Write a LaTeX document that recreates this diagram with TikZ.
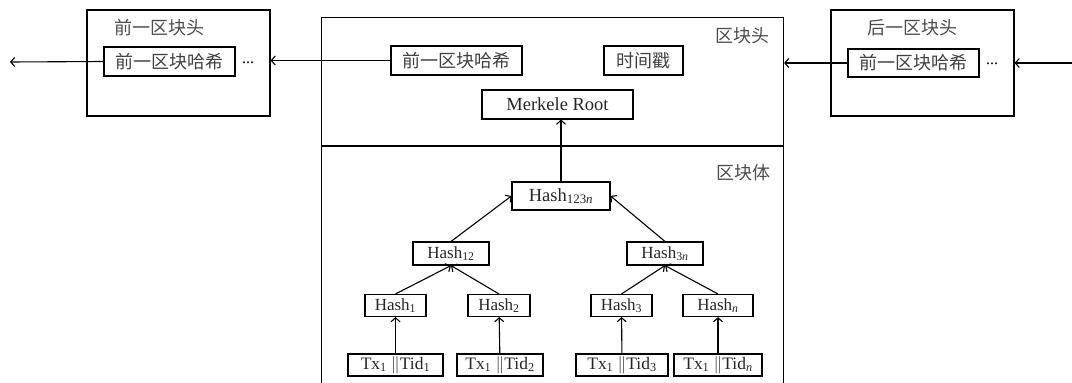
\documentclass[tikz,border=0pt]{standalone}
\usepackage{fontspec}
\setmainfont{Liberation Serif}
\newfontfamily\cjk{Noto Sans CJK SC}
\usetikzlibrary{arrows.meta,positioning}

\begin{document}
\begin{tikzpicture}[x=1pt,y=-1pt,line width=1.1pt,>={Straight Barb[length=4pt,width=9pt]},
blockbox/.style={draw,minimum width=183pt,minimum height=106pt},
fieldbox/.style={draw,inner sep=0pt,minimum height=29pt,font=\cjk\fontsize{18pt}{20pt}\selectfont,text=black!75},
hashbox/.style={draw,inner sep=0pt,minimum height=22pt,font=\fontsize{17pt}{19pt}\selectfont,text=black!85},
txbox/.style={draw,inner sep=0pt,minimum height=22pt,font=\fontsize{17.5pt}{19pt}\selectfont,text=black!85},
tag/.style={font=\cjk\fontsize{18pt}{20pt}\selectfont,text=black!70}]
\useasboundingbox (0,0) rectangle (1072,383);
\clip (0,0) rectangle (1072,383);

% previous block
\node[blockbox] (prevblk) at (178.5,63) {};
\node[tag] at (159,28) {前一区块头};
\node[fieldbox,minimum width=131pt] (prevhash) at (169.5,61.5) {前一区块哈希};
\node[font=\fontsize{16pt}{18pt}\selectfont] (prevdots) at (248,63) {...};
\coordinate (leftend) at (10,62);
\draw[->] (prevhash.west) -- (leftend);

% current block, open at the bottom
\node[draw,minimum width=462pt,minimum height=400pt,anchor=north west] (blk) at (321,17) {};
\draw (321,146) -- (783,146);
\node[tag] at (742,36) {区块头};
\node[tag] at (743,173) {区块体};
\node[fieldbox,minimum width=131pt] (mainhash) at (456.5,60.5) {前一区块哈希};
\node[fieldbox,minimum width=79pt] (stamp) at (643.5,60.5) {时间戳};
\node[hashbox,minimum width=151pt,minimum height=29pt,font=\fontsize{18.5pt}{20pt}\selectfont] (root) at (557.5,104.5) {Merkele Root};
\draw[->] (mainhash.west) -- (mainhash.west -| prevblk.east);

% merkle tree
\node[hashbox,minimum width=98pt,minimum height=28pt,font=\fontsize{18.5pt}{20pt}\selectfont] (h123n) at (561,196) {Hash\textsubscript{123\textit{n}}};
\node[hashbox,minimum width=76pt,minimum height=23pt] (h12) at (451,253.5) {Hash\textsubscript{12}};
\node[hashbox,minimum width=76pt,minimum height=23pt] (h3n) at (665,253.5) {Hash\textsubscript{3\textit{n}}};
\node[hashbox,minimum width=61pt] (h1) at (395.5,305.5) {Hash\textsubscript{1}};
\node[hashbox,minimum width=62pt] (h2) at (499,305.5) {Hash\textsubscript{2}};
\node[hashbox,minimum width=61pt] (h3) at (621.5,305.5) {Hash\textsubscript{3}};
\node[hashbox,minimum width=70pt] (hn) at (718,305.5) {Hash\textsubscript{\textit{n}}};
\node[txbox,minimum width=95pt] (tx1) at (395.5,365) {Tx\textsubscript{1} $\|$Tid\textsubscript{1}};
\node[txbox,minimum width=86pt] (tx2) at (500,365) {Tx\textsubscript{1} $\|$Tid\textsubscript{2}};
\node[txbox,minimum width=92pt] (tx3) at (622,365) {Tx\textsubscript{1} $\|$Tid\textsubscript{3}};
\node[txbox,minimum width=88pt] (txn) at (718,365) {Tx\textsubscript{1} $\|$Tid\textsubscript{\textit{n}}};
\draw[->] (tx1) -- (h1);
\draw[->] (tx2) -- (h2);
\draw[->] (tx3) -- (h3);
\draw[->] (txn) -- (hn);
\draw[->] (h1.north) -- (h12.south);
\draw[->] (h2.north) -- (h12.south);
\draw[->] (h3.north) -- (h3n.south);
\draw[->] (hn.north) -- (h3n.south);
\draw[->] (h12.north) -- (h123n.west);
\draw[->] (h3n.north) -- (h123n.east);
\draw[->] (h123n.north) -- (h123n.north |- root.south);

% next block
\node[blockbox] (nextblk) at (922.5,63) {};
\node[tag] at (912,28) {后一区块头};
\node[fieldbox,minimum width=131pt,minimum height=28pt] (nexthash) at (913.5,63) {前一区块哈希};
\node[font=\fontsize{16pt}{18pt}\selectfont] (nextdots) at (992,64) {...};
\coordinate (rightend) at (1072,63);
\draw[->] (nexthash.west) -- (nexthash.west -| blk.east);
\draw[->] (rightend) -- (nextblk.east |- rightend);
\end{tikzpicture}
\end{document}
